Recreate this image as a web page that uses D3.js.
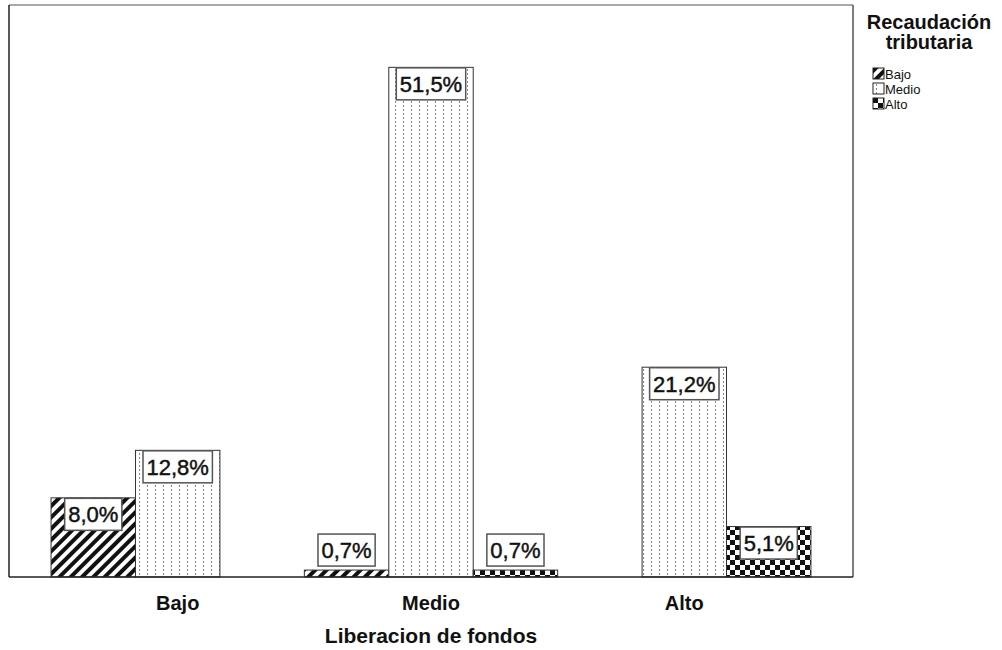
<!DOCTYPE html>
<html>
<head>
<meta charset="utf-8">
<script src="https://cdn.jsdelivr.net/npm/d3@7/dist/d3.min.js"></script>
<style>
  html, body { margin: 0; padding: 0; background: #fff; }
  svg { display: block; font-family: "Liberation Sans", Arial, sans-serif; }
</style>
</head>
<body>
<svg id="chart" width="1002" height="650"></svg>
<script>
// Liberación de fondos (x groups) vs Recaudación tributaria (series)
const categories = ["Bajo", "Medio", "Alto"];
const seriesNames = ["Bajo", "Medio", "Alto"];
// percentage per group, one array per series (null = no bar)
const bajoValues  = [8.0, 0.7, null];
const medioValues = [12.8, 51.5, 21.2];
const altoValues  = [null, 0.7, 5.1];
const xTitle = "Liberacion de fondos";
const legendTitle = ["Recaudación", "tributaria"];

const seriesValues = [bajoValues, medioValues, altoValues];

const svg = d3.select("#chart");
const plot = { left: 9, right: 853, top: 5, bottom: 577 };

// ---- patterns ----
const defs = svg.append("defs");

// diagonal hatching
const pHatch = defs.append("pattern").attr("id", "pat-bajo")
  .attr("patternUnits", "userSpaceOnUse").attr("width", 8).attr("height", 8)
  .attr("patternTransform", "rotate(45)");
pHatch.append("rect").attr("width", 8).attr("height", 8).attr("fill", "#fff");
pHatch.append("rect").attr("x", 0).attr("width", 4).attr("height", 8).attr("fill", "#111");

// dotted vertical columns
const pDot = defs.append("pattern").attr("id", "pat-medio")
  .attr("patternUnits", "userSpaceOnUse").attr("width", 8).attr("height", 4);
pDot.append("rect").attr("width", 8).attr("height", 4).attr("fill", "#fff");
pDot.append("rect").attr("x", 3).attr("y", 1).attr("width", 1).attr("height", 2).attr("fill", "#8a8a8a");

// checkerboard
const pChk = defs.append("pattern").attr("id", "pat-alto")
  .attr("patternUnits", "userSpaceOnUse").attr("width", 10).attr("height", 10);
pChk.append("rect").attr("width", 10).attr("height", 10).attr("fill", "#fff");
pChk.append("rect").attr("width", 5).attr("height", 5).attr("fill", "#111");
pChk.append("rect").attr("x", 5).attr("y", 5).attr("width", 5).attr("height", 5).attr("fill", "#111");

const fills = ["url(#pat-bajo)", "url(#pat-medio)", "url(#pat-alto)"];

// ---- scales ----
const x0 = d3.scaleBand().domain(categories)
  .range([plot.left, plot.right]).paddingInner(0).paddingOuter(0.166);
const x1 = d3.scaleBand().domain(seriesNames).range([0, x0.bandwidth()]).padding(0);
const y = d3.scaleLinear().domain([0, 57.8]).range([plot.bottom, plot.top]);

// ---- frame ----
svg.append("line").attr("x1", plot.left).attr("x2", plot.right)
  .attr("y1", plot.top).attr("y2", plot.top).attr("stroke", "#8c8c8c").attr("stroke-width", 1.5);
svg.append("line").attr("x1", plot.right).attr("x2", plot.right)
  .attr("y1", plot.top).attr("y2", plot.bottom).attr("stroke", "#555").attr("stroke-width", 1.5);
svg.append("line").attr("x1", plot.left).attr("x2", plot.left)
  .attr("y1", plot.top).attr("y2", plot.bottom).attr("stroke", "#222").attr("stroke-width", 1.5);

// ---- bars ----
const barData = [];
categories.forEach((c, ci) => {
  seriesNames.forEach((s, si) => {
    const v = seriesValues[si][ci];
    if (v != null) barData.push({ cat: c, ser: s, si, v });
  });
});

const bars = svg.append("g");
bars.selectAll("rect").data(barData).join("rect")
  .attr("x", d => x0(d.cat) + x1(d.ser))
  .attr("y", d => y(d.v))
  .attr("width", x1.bandwidth())
  .attr("height", d => y(0) - y(d.v))
  .attr("fill", d => fills[d.si])
  .attr("stroke", "#333").attr("stroke-width", 1);

// baseline
svg.append("line").attr("x1", plot.left).attr("x2", plot.right)
  .attr("y1", plot.bottom).attr("y2", plot.bottom).attr("stroke", "#222").attr("stroke-width", 1.5);

// ---- value labels ----
const fmt = v => v.toFixed(1).replace(".", ",") + "%";
const labels = svg.append("g").attr("font-size", 22).attr("fill", "#111")
  .attr("stroke", "#111").attr("stroke-width", 0.45);
barData.forEach(d => {
  const cx = x0(d.cat) + x1(d.ser) + x1.bandwidth() / 2;
  const boxH = 32;
  const barH = y(0) - y(d.v);
  const top = barH >= boxH + 2 ? y(d.v) + 0.5 : y(d.v) - boxH - 4;
  const g = labels.append("g");
  const t = g.append("text").attr("x", cx).attr("y", top + boxH / 2 + 8)
    .attr("text-anchor", "middle").text(fmt(d.v));
  const w = t.node().getComputedTextLength() + 7;
  g.insert("rect", "text").attr("x", cx - w / 2).attr("y", top)
    .attr("width", w).attr("height", boxH)
    .attr("fill", "#fff").attr("stroke", "#555").attr("stroke-width", 1.5);
});

// ---- x axis ----
const xAxis = d3.axisBottom(x0).tickSize(0).tickPadding(19);
const gx = svg.append("g").attr("transform", `translate(0,${plot.bottom})`).call(xAxis);
gx.select(".domain").remove();
gx.selectAll("text").attr("font-size", 20).attr("font-weight", "bold")
  .attr("fill", "#111").attr("font-family", "Liberation Sans, Arial, sans-serif");

svg.append("text").attr("x", x0("Medio") + x0.bandwidth() / 2).attr("y", 643)
  .attr("text-anchor", "middle").attr("font-size", 21).attr("font-weight", "bold")
  .attr("fill", "#111").text(xTitle);

// ---- legend ----
const lg = svg.append("g");
lg.selectAll("text.title").data(legendTitle).join("text").attr("class", "title")
  .attr("x", 929).attr("y", (d, i) => 29 + i * 20)
  .attr("text-anchor", "middle").attr("font-size", 20).attr("font-weight", "bold")
  .attr("fill", "#111").text(d => d);

const items = lg.selectAll("g.item").data(seriesNames).join("g").attr("class", "item")
  .attr("transform", (d, i) => `translate(873,${68 + i * 15})`);
items.append("rect").attr("width", 11).attr("height", 11)
  .attr("fill", (d, i) => fills[i]).attr("stroke", "#222").attr("stroke-width", 1);
items.append("text").attr("x", 12).attr("y", 10.5).attr("font-size", 13)
  .attr("fill", "#111").text(d => d);
</script>
</body>
</html>
